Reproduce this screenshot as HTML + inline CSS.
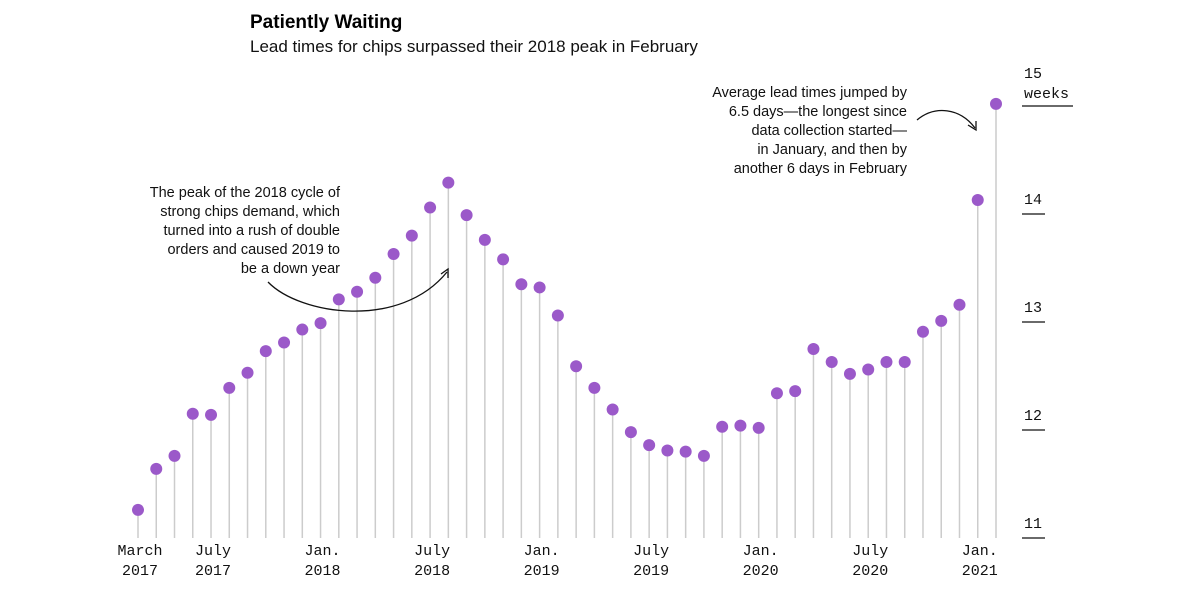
<!DOCTYPE html>
<html><head><meta charset="utf-8"><style>
body{margin:0;background:#fff;width:1200px;height:593px;overflow:hidden;font-family:"Liberation Sans",sans-serif}
svg{display:block}
.mono{font-family:"Liberation Mono",monospace;font-size:15px;fill:#111}
.ann{font-size:14.5px;fill:#111}
</style></head><body>
<svg width="1200" height="593">
<text x="250" y="28" font-size="19" font-weight="bold" fill="#000">Patiently Waiting</text>
<text x="250" y="52" font-size="17" fill="#111">Lead times for chips surpassed their 2018 peak in February</text>
<g id="yaxis"></g>
<g id="stems"></g>
<g id="dots"></g>
<g id="xaxis"></g>
<g>
<text class="ann" text-anchor="end" x="340" y="197">The peak of the 2018 cycle of</text>
<text class="ann" text-anchor="end" x="340" y="216">strong chips demand, which</text>
<text class="ann" text-anchor="end" x="340" y="235">turned into a rush of double</text>
<text class="ann" text-anchor="end" x="340" y="254">orders and caused 2019 to</text>
<text class="ann" text-anchor="end" x="340" y="273">be a down year</text>
<path d="M268,282 C300,315 400,330 447,272" fill="none" stroke="#111" stroke-width="1.3"/>
<path d="M441,274 L448,269 L448,278" fill="none" stroke="#111" stroke-width="1.3"/>
</g>
<g>
<text class="ann" text-anchor="end" x="907" y="97">Average lead times jumped by</text>
<text class="ann" text-anchor="end" x="907" y="116">6.5 days—the longest since</text>
<text class="ann" text-anchor="end" x="907" y="135">data collection started—</text>
<text class="ann" text-anchor="end" x="907" y="154">in January, and then by</text>
<text class="ann" text-anchor="end" x="907" y="173">another 6 days in February</text>
<path d="M917,120 C935,105 960,108 975,128" fill="none" stroke="#111" stroke-width="1.3"/>
<path d="M968,125 L976,130 L976,121" fill="none" stroke="#111" stroke-width="1.3"/>
</g>
</svg>
<script>
const values=[11.26,11.64,11.76,12.15,12.14,12.39,12.53,12.73,12.81,12.93,12.99,13.21,13.28,13.41,13.63,13.80,14.06,14.29,13.99,13.76,13.58,13.35,13.32,13.06,12.59,12.39,12.19,11.98,11.86,11.81,11.80,11.76,12.03,12.04,12.02,12.34,12.36,12.75,12.63,12.52,12.56,12.63,12.63,12.91,13.01,13.16,14.13,15.02];
const xTickIdx=[0,4,10,16,22,28,34,40,46];
const xTickTop=["March","July","Jan.","July","Jan.","July","Jan.","July","Jan."];
const xTickBottom=["2017","2017","2018","2018","2019","2019","2020","2020","2021"];
const yTicks=[11,12,13,14,15];
const NS="http://www.w3.org/2000/svg";
const x=i=>138+i*(996-138)/47;
const y=v=>538-(v-11)*108;
function mk(tag,attrs,parent){const e=document.createElementNS(NS,tag);for(const k in attrs)e.setAttribute(k,attrs[k]);document.getElementById(parent).appendChild(e);return e;}
yTicks.forEach(t=>{
 const l=mk('line',{x1:1022,x2:(t===15?1073:1045),y1:y(t),y2:y(t),stroke:'#111','stroke-width':1.3},'yaxis');
 
 
 const tx=mk('text',{x:1024,y:(t===15?y(t)-28:y(t)-10),class:'mono'},'yaxis');
 tx.textContent=t;
 
 
 if(t===15){const w=mk('text',{x:1024,y:y(t)-8,class:'mono'},'yaxis');w.textContent='weeks';
 
 }
});
values.forEach((v,i)=>{
 const s=mk('line',{x1:x(i),x2:x(i),y1:y(v),y2:538,stroke:'#ccc','stroke-width':1.5},'stems');
 
 
 const c=mk('circle',{cx:x(i),cy:y(v),r:6,fill:'#9b59c9'},'dots');
 
 
});
xTickIdx.forEach((idx,k)=>{
 const a=mk('text',{x:x(idx)+2,y:555,class:'mono','text-anchor':'middle'},'xaxis');a.textContent=xTickTop[k];
 
 
 const b=mk('text',{x:x(idx)+2,y:575,class:'mono','text-anchor':'middle'},'xaxis');b.textContent=xTickBottom[k];
 
 
});
</script>
</body></html>
